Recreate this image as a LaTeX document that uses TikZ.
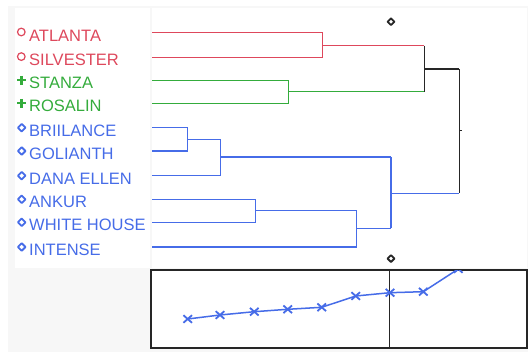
\documentclass[tikz,border=0pt]{standalone}
\usepackage{fontspec}
\setmainfont{Liberation Sans}
\begin{document}
\begin{tikzpicture}[x=1pt,y=-1pt,
  lbl/.style={anchor=base west,inner sep=0pt,font=\fontsize{16.5}{18}\selectfont},
  redc/.style={draw=clred,line width=1.3pt},
  grnc/.style={draw=clgreen,line width=1.3pt},
  bluc/.style={draw=clblue,line width=1.3pt},
  blkc/.style={draw=black!85,line width=1.6pt},
  ringmark/.style={draw=black!85,line width=1.8pt,line join=round}]
\definecolor{clred}{RGB}{222,72,92}
\definecolor{clgreen}{RGB}{52,172,60}
\definecolor{clblue}{RGB}{70,108,232}
\definecolor{panelbg}{RGB}{247,247,247}
\useasboundingbox (0,0) rectangle (528,352);
% background and panels
\fill[white] (0,0) rectangle (528,352);
\fill[panelbg] (8,6) rectangle (528,352);
\fill[white] (15,8) rectangle (150,268);
\fill[white] (152,8) rectangle (527,268);
\fill[white] (151,270) rectangle (527,348);

% leaf labels with their markers
\foreach \name/\txt/\yy/\col in {a/ATLANTA/32.7/clred, s/SILVESTER/57.3/clred}{
  \draw[\col,line width=1.2pt] (21.3,\yy-0.7) circle[radius=3.8];
  \node[lbl,text=\col] (l\name) at (29,\yy+8.7) {\txt};
}
\foreach \name/\txt/\yy in {st/STANZA/80.3, ro/ROSALIN/103.3}{
  \draw[clgreen,line width=2.4pt] (17,\yy) -- (26,\yy) (21.5,\yy-4.5) -- (21.5,\yy+4.5);
  \node[lbl,text=clgreen] (l\name) at (29,\yy+8.7) {\txt};
}
\foreach \name/\txt/\yy in {br/BRIILANCE/127.7, go/GOLIANTH/151, da/DANA ELLEN/175.7, an/ANKUR/199.3, wh/WHITE HOUSE/222.3, in/INTENSE/247}{
  \draw[clblue,line width=1.8pt,line join=round] (21.7,\yy-3.8) -- (25.5,\yy) -- (21.7,\yy+3.8) -- (17.9,\yy) -- cycle;
  \node[lbl,text=clblue] (l\name) at (29,\yy+8.7) {\txt};
}

% leaf ends of the tree
\coordinate (ta) at (152,32.7);
\coordinate (ts) at (152,57.3);
\coordinate (tst) at (152,80.3);
\coordinate (tro) at (152,103.3);
\coordinate (tbr) at (152,127.7);
\coordinate (tgo) at (152,151);
\coordinate (tda) at (152,175.7);
\coordinate (tan) at (152,199.3);
\coordinate (twh) at (152,222.3);
\coordinate (tin) at (152,247);

% merge points
\coordinate (jas) at (322.7,45.7);
\coordinate (jsr) at (288.3,91.7);
\coordinate (jbg) at (187.7,139.3);
\coordinate (jbd) at (220.3,157);
\coordinate (jaw) at (255.3,210.7);
\coordinate (jai) at (356.7,228.3);
\coordinate (jblue) at (391,193.3);
\coordinate (jtop) at (424.3,69);
\coordinate (jroot) at (459.3,131);

% red cluster
\draw[redc] (ta) -| (jas) |- (ts);
\draw[redc] (jas) -- (jtop |- jas);
% green cluster
\draw[grnc] (tst) -| (jsr) |- (tro);
\draw[grnc] (jsr) -- (jtop |- jsr);
% blue cluster
\draw[bluc] (tbr) -| (jbg) |- (tgo);
\draw[bluc] (jbg) -- (jbd |- jbg);
\draw[bluc] (jbd |- jbg) -- (jbd |- tda) -- (tda);
\draw[bluc] (jbd) -- (jblue |- jbd);
\draw[bluc] (tan) -| (jaw) |- (twh);
\draw[bluc] (jaw) -- (jai |- jaw);
\draw[bluc] (jai |- jaw) -- (jai |- tin) -- (tin);
\draw[bluc] (jai) -- (jblue |- jai);
\draw[bluc] (jblue |- jbd) -- (jblue |- jai);
\draw[bluc] (jblue) -- (jroot |- jblue);
% upper join and root
\draw[blkc] (jtop |- jas) -- (jtop |- jsr);
\draw[blkc] (jtop) -- (jroot |- jtop);
\draw[blkc] (jroot |- jtop) -- (jroot |- jblue);
\draw[black!85,line width=1pt] (jroot) -- ++(2.5,0);

% cut markers
\coordinate (cuttop) at (391,21.7);
\coordinate (cutbot) at (391,258.6);
\foreach \c in {cuttop,cutbot}{
  \draw[ringmark] ([yshift=-3.4pt]\c) -- ([xshift=3.4pt]\c) -- ([yshift=3.4pt]\c) -- ([xshift=-3.4pt]\c) -- cycle;
}

% distance plot
\draw[black!85,line width=1.3pt] (151,270) rectangle (527,348);
\draw[black!85,line width=1.1pt] (389.7,270) -- (389.7,348);
\begin{scope}
\clip (151.6,270.6) rectangle (526.4,347.4);
\draw[clblue,line width=1.5pt] (187.7,319) -- (220,315) -- (254.3,311.7) -- (287.7,309.3) -- (321.7,307.3) -- (355.7,296) -- (390,292.7) -- (423.3,291.7) -- (458.3,269);
\foreach \px/\py in {187.7/319, 220/315, 254.3/311.7, 287.7/309.3, 321.7/307.3, 355.7/296, 390/292.7, 423.3/291.7, 458.3/269}{
  \draw[clblue,line width=1.8pt] (\px-4.3,\py-3.8) -- (\px+4.3,\py+3.8) (\px-4.3,\py+3.8) -- (\px+4.3,\py-3.8);
}
\end{scope}
\end{tikzpicture}
\end{document}
